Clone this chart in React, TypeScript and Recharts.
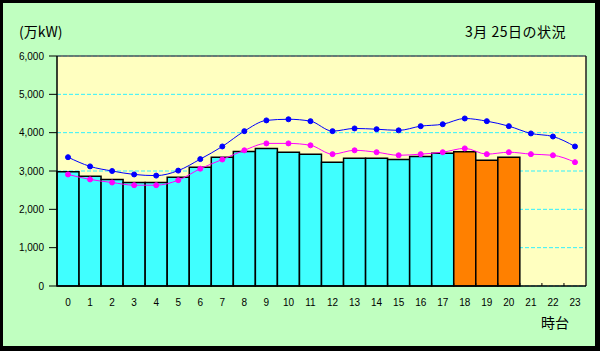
import React from 'react';
import { ComposedChart, Bar, Line, XAxis, YAxis, CartesianGrid, Cell, ReferenceLine } from 'recharts';

const hours = ['0','1','2','3','4','5','6','7','8','9','10','11','12','13','14','15','16','17','18','19','20','21','22','23'];
const actual: (number | null)[] = [2980, 2860, 2780, 2700, 2700, 2840, 3100, 3360, 3510, 3590, 3490, 3440, 3230, 3330, 3330, 3300, 3380, 3460, 3500, 3280, 3360, null, null, null];
const forecast = [3360, 3120, 3000, 2910, 2880, 3010, 3310, 3640, 4040, 4320, 4350, 4300, 4040, 4110, 4090, 4060, 4170, 4220, 4370, 4300, 4170, 3980, 3900, 3640];
const lastYear = [2910, 2780, 2700, 2630, 2630, 2760, 3060, 3300, 3540, 3720, 3720, 3670, 3440, 3540, 3490, 3410, 3440, 3490, 3590, 3440, 3490, 3440, 3410, 3230];
const highlightedHours = ['18', '19', '20'];
const yTicks = [0, 1000, 2000, 3000, 4000, 5000, 6000];

const data = hours.map((h, i) => ({ hour: h, actual: actual[i], forecast: forecast[i], lastYear: lastYear[i] }));

const font = '"Liberation Sans", Arial, sans-serif';
const cjk = '"Noto Sans CJK JP", sans-serif';
const TICK_MARGIN = 13;

function HourTick(props: any) {
  const { x, y, payload, index, visibleTicksCount } = props;
  const off = payload && typeof payload.offset === 'number' && payload.offset > 0 ? payload.offset : 11;
  const axisY = y - TICK_MARGIN;
  const isLast = index === (visibleTicksCount ? visibleTicksCount - 1 : hours.length - 1);
  return (
    <g>
      {!isLast && <line x1={x + off} x2={x + off} y1={axisY} y2={axisY - 3} stroke="#000" strokeWidth={1} />}
      <text x={x} y={y} dy="0.71em" textAnchor="middle" fontSize={10} fontFamily={font} fill="#000">{payload.value}</text>
    </g>
  );
}

export default function App() {
  return (
    <div style={{ position: 'absolute', left: 0, top: 0, width: 600, height: 351, background: '#C0FFC0', overflow: 'hidden' }}>
      <ComposedChart width={600} height={351} data={data} margin={{ top: 56, right: 14, bottom: 35, left: 0 }} barCategoryGap={0} barGap={0}>
        <CartesianGrid xAxisId="a" yAxisId="l" vertical={false} stroke="#30F0FF" strokeDasharray="4 2" fill="#FFFFC0" />
        <XAxis xAxisId="a" dataKey="hour" height={30} tickLine={false} tickSize={0} tickMargin={TICK_MARGIN} interval={0}
          axisLine={{ stroke: '#000', strokeWidth: 1.5 }} tick={<HourTick />} />
        <YAxis yAxisId="l" width={57} domain={[0, 6000]} ticks={yTicks} interval={0} tickSize={8} tickMargin={5}
          tickFormatter={(v: number) => v.toLocaleString('en-US')}
          axisLine={{ stroke: '#000', strokeWidth: 1.5 }} tickLine={{ stroke: '#000' }} tick={{ fontSize: 10, fill: '#000', fontFamily: font }} />
        <ReferenceLine yAxisId="l" xAxisId="a" y={6000} stroke="#555" strokeWidth={1.5} />
        <ReferenceLine yAxisId="l" xAxisId="a" x="23" position="end" stroke="#222" strokeWidth={1.5} />
        <Bar xAxisId="a" yAxisId="l" dataKey="actual" stroke="#000" strokeWidth={1.5} isAnimationActive={false}>
          {data.map((d) => (
            <Cell key={d.hour} fill={highlightedHours.includes(d.hour) ? '#FF8000' : '#40FFFF'} />
          ))}
        </Bar>
        <Line xAxisId="a" yAxisId="l" type="monotone" dataKey="lastYear" stroke="#FF00FF" strokeWidth={1} dot={{ r: 2.5, fill: '#FF00FF', stroke: '#FF00FF', strokeWidth: 1 }} isAnimationActive={false} />
        <Line xAxisId="a" yAxisId="l" type="monotone" dataKey="forecast" stroke="#0000FF" strokeWidth={1} dot={{ r: 2.5, fill: '#0000FF', stroke: '#0000FF', strokeWidth: 1 }} isAnimationActive={false} />
      </ComposedChart>
      <div style={{ position: 'absolute', left: 19, top: 23, fontFamily: cjk, fontSize: 14, lineHeight: '16px', color: '#000', whiteSpace: 'nowrap' }}>(万kW)</div>
      <div style={{ position: 'absolute', left: 465, top: 23, fontFamily: cjk, fontSize: 14, lineHeight: '16px', color: '#000', whiteSpace: 'nowrap', letterSpacing: 0.5 }}>3月 25日の状況</div>
      <div style={{ position: 'absolute', left: 541, top: 314, fontFamily: cjk, fontSize: 14, lineHeight: '16px', color: '#000', whiteSpace: 'nowrap' }}>時台</div>
      <div style={{ position: 'absolute', left: 0, top: 0, width: 600, height: 351, boxSizing: 'border-box', borderStyle: 'solid', borderColor: '#000', borderWidth: '3px 5px 5px 3px', pointerEvents: 'none' }} />
    </div>
  );
}
